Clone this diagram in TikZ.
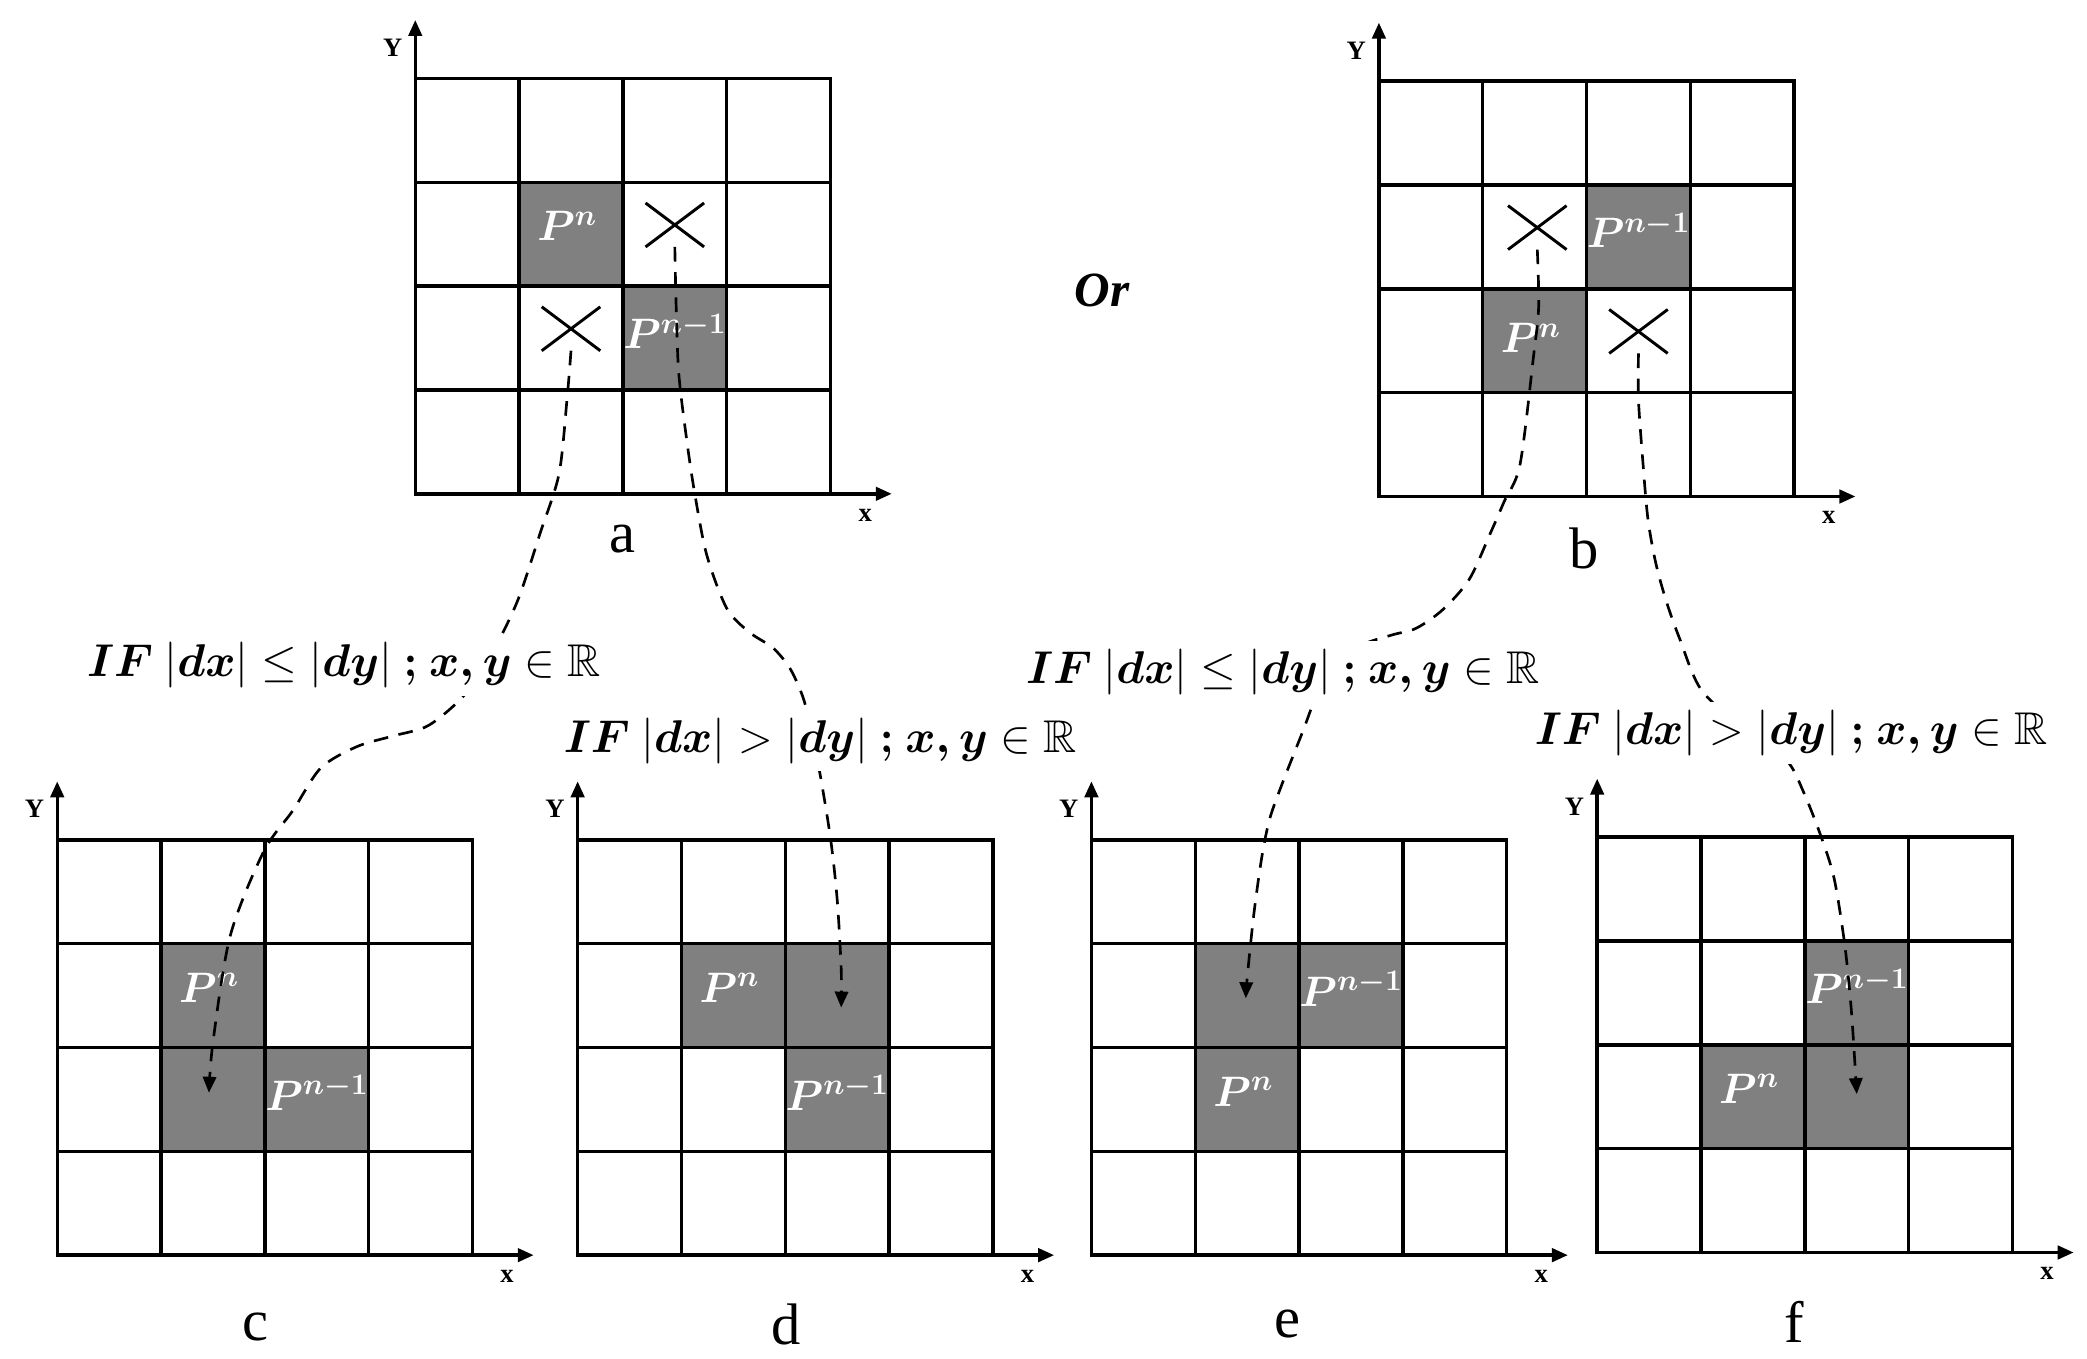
\RequirePackage{fix-cm}
\documentclass[tikz,border=0pt]{standalone}
\usepackage{amsmath,amssymb}
\usepackage{fontspec}
\setmainfont{Liberation Serif}
\usetikzlibrary{arrows.meta,calc,shapes.misc}
\definecolor{cellgray}{RGB}{128,128,128}
\tikzset{
  cellbox/.style={draw, line width=2.6pt, minimum size=78pt, inner sep=0pt, outer sep=0pt},
  shaded/.style={fill=cellgray},
  axisline/.style={line width=2.6pt, -{Triangle[length=12pt,width=10pt]}},
  axlabel/.style={font=\fontsize{20}{22}\selectfont\bfseries, inner sep=0pt},
  sublabel/.style={font=\fontsize{44}{48}\selectfont, inner sep=0pt},
  plabel/.style={text=white, font=\fontsize{32}{34}\selectfont\boldmath, inner sep=0pt},
  xmark/.style={cross out, draw, line width=2.2pt, minimum width=44pt, minimum height=33pt, inner sep=0pt, outer sep=0pt},
  cond/.style={fill=white, font=\fontsize{34.5}{38}\selectfont, inner xsep=2pt, inner ysep=6pt, anchor=base},
  flow/.style={line width=2pt, dash pattern=on 11pt off 8pt, -{Triangle[length=12pt,width=10pt]}},
  ortext/.style={font=\fontsize{37}{40}\selectfont\bfseries\itshape, inner sep=0pt},
}
\newcommand{\mkgrid}[3]{%
  \foreach \cc in {1,...,4}{\foreach \rr in {1,...,4}{%
    \node[cellbox] (#1\cc\rr) at ({#2+(\cc-0.5)*78},{#3+(\rr-0.5)*78}) {};
  }}
  \coordinate (#1o) at (#2,#3+312);
  \draw[axisline] (#1o) -- ++(0,-356);
  \draw[axisline] (#1o) -- ++(358,0);
  \node[axlabel] (#1Y) at (#2-17,#3-23) {Y};
  \node[axlabel] (#1X) at (#2+338,#3+328) {x};
}
\newcommand{\ifle}{$\boldsymbol{IF}\ |\boldsymbol{dx}| \le |\boldsymbol{dy}|\ \boldsymbol{;}\ \boldsymbol{x,y} \in \mathbb{R}$}
\newcommand{\ifgt}{$\boldsymbol{IF}\ |\boldsymbol{dx}| > |\boldsymbol{dy}|\ \boldsymbol{;}\ \boldsymbol{x,y} \in \mathbb{R}$}
\begin{document}
\begin{tikzpicture}[x=1pt,y=-1pt]
\fill[white] (0,0) rectangle (1568,1021);
\useasboundingbox (0,0) rectangle (1568,1021);

\mkgrid{a}{312}{59}
\mkgrid{b}{1036}{61}
\mkgrid{c}{43}{631}
\mkgrid{d}{434}{631}
\mkgrid{e}{820}{631}
\mkgrid{f}{1200}{629}

% shaded cells
\node[cellbox,shaded] (aS1) at (a22) {};
\node[cellbox,shaded] (aS2) at (a33) {};
\node[cellbox,shaded] (bS1) at (b32) {};
\node[cellbox,shaded] (bS2) at (b23) {};
\node[cellbox,shaded] (cS1) at (c22) {};
\node[cellbox,shaded] (cS2) at (c23) {};
\node[cellbox,shaded] (cS3) at (c33) {};
\node[cellbox,shaded] (dS1) at (d22) {};
\node[cellbox,shaded] (dS2) at (d32) {};
\node[cellbox,shaded] (dS3) at (d33) {};
\node[cellbox,shaded] (eS1) at (e22) {};
\node[cellbox,shaded] (eS2) at (e32) {};
\node[cellbox,shaded] (eS3) at (e23) {};
\node[cellbox,shaded] (fS1) at (f32) {};
\node[cellbox,shaded] (fS2) at (f23) {};
\node[cellbox,shaded] (fS3) at (f33) {};

% P labels
\node[plabel] (aPn) at ($(a22)+(-3,-6)$) {$P^{n}$};
\node[plabel] (aPm) at ($(a33)+(0,-5)$) {$P^{n-1}$};
\node[plabel] (bPm) at ($(b32)+(0,-5)$) {$P^{n-1}$};
\node[plabel] (bPn) at ($(b23)+(-3,-2)$) {$P^{n}$};
\node[plabel] (cPn) at ($(c22)+(-3,-6)$) {$P^{n}$};
\node[plabel] (cPm) at ($(c33)+(0,-5)$) {$P^{n-1}$};
\node[plabel] (dPn) at ($(d22)+(-3,-6)$) {$P^{n}$};
\node[plabel] (dPm) at ($(d33)+(0,-5)$) {$P^{n-1}$};
\node[plabel] (ePm) at ($(e32)+(0,-5)$) {$P^{n-1}$};
\node[plabel] (ePn) at ($(e23)+(-3,-6)$) {$P^{n}$};
\node[plabel] (fPm) at ($(f32)+(0,-5)$) {$P^{n-1}$};
\node[plabel] (fPn) at ($(f23)+(-3,-6)$) {$P^{n}$};

% crosses
\node[xmark] (aX1) at ($(a32)+(0,-7)$) {};
\node[xmark] (aX2) at ($(a23)+(0,-7)$) {};
\node[xmark] (bX1) at ($(b22)+(2,-7)$) {};
\node[xmark] (bX2) at ($(b33)+(0,-7)$) {};

% sub labels
\node[sublabel] (la) at (468,405) {a};
\node[sublabel] (lb) at (1190,412) {b};
\node[sublabel] (lc) at (192,997) {c};
\node[sublabel] (ld) at (591,995) {d};
\node[sublabel] (le) at (967,995) {e};
\node[sublabel] (lf) at (1348,993) {f};
\node[ortext] (or) at (828,218) {Or};

% arrow targets
\coordinate (cTip) at ($(c23)+(-3,-5)$);
\coordinate (dTip) at ($(d32)+(3,9)$);
\coordinate (eTip) at ($(e22)+(-1,2)$);
\coordinate (fTip) at ($(f33)+(0,-2)$);

% flow curves
\draw[flow] plot[smooth] coordinates {(aX2.south) (426,300) (420,356) (406,400) (389,451) (370,490) (349,522) (322,545) (295,553) (268,561) (241,577) (220,609) (198,640) (173,703) (160,783) (cTip)};
\draw[flow] plot[smooth] coordinates {(aX1.south) (508,230) (510,281) (516,331) (522,371) (531,417) (546,457) (563,475) (581,487) (594,503) (604,526) (610,553) (616,581) (624,630) (629,676) (632,728) (dTip)};
\draw[flow] plot[smooth] coordinates {(bX1.south) (1156,231) (1152,269) (1142,349) (1130,377) (1120,400) (1104,435) (1084,458) (1064,472) (1046,477) (1022,485) (1003,500) (989,523) (979,549) (964,587) (954,615) (948,644) (942,687) (937,735) (eTip)};
\draw[flow] plot[smooth] coordinates {(bX2.south) (1231,300) (1234,343) (1238,389) (1244,423) (1252,452) (1262,480) (1278,518) (1310,548) (1342,571) (1355,595) (1368,628) (1378,660) (1386,710) (1391,760) (fTip)};

% condition texts
\node[cond] (t1) at (258.5,508.5) {\ifle};
\node[cond] (t2) at (616.5,565) {\ifgt};
\node[cond] (t3) at (964,513.5) {\ifle};
\node[cond] (t4) at (1346,559.5) {\ifgt};
\end{tikzpicture}
\end{document}
